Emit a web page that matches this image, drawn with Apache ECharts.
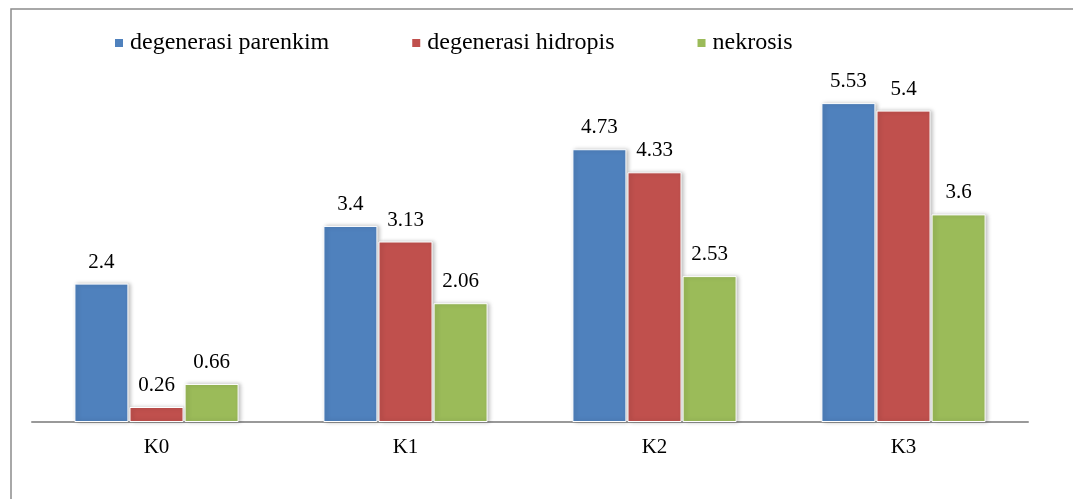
<!DOCTYPE html>
<html><head><meta charset="utf-8">
<script src="https://cdn.jsdelivr.net/npm/echarts@6/dist/echarts.min.js"></script>
<style>html,body{margin:0;padding:0;background:#fff}#c{width:1073px;height:499px}</style>
</head><body><div id="c"></div>
<script>
const categories = ['K0','K1','K2','K3'];
const seriesNames = ['degenerasi parenkim','degenerasi hidropis','nekrosis'];
const parenkim = [2.4, 3.4, 4.73, 5.53];
const hidropis = [0.26, 3.13, 4.33, 5.4];
const nekrosis = [0.66, 2.06, 2.53, 3.6];
const colors = ['#4F81BD','#C0504D','#9BBB59'];
const font = '"Liberation Serif","DejaVu Serif",serif';
const chart = echarts.init(document.getElementById('c'), null, {renderer:'canvas'});
const mk = (name, data, i) => ({
  name, type:'bar', data, barWidth:54, barGap:'2%',
  itemStyle:{color:colors[i], borderColor:'#fff', borderWidth:1, shadowColor:'rgba(0,0,0,0.25)', shadowBlur:4, shadowOffsetX:2, shadowOffsetY:0},
  label:{show:true, position:'top', distance:11, color:'#000', fontFamily:font, fontSize:21},
  emphasis:{disabled:true}, animation:false
});
chart.setOption({
  animation:false,
  graphic:[{type:'rect', shape:{x:11, y:9, width:1200, height:700}, style:{fill:'none', stroke:'#8c8c8c', lineWidth:1.5}, silent:true}],
  legend:{top:26, left:108, itemWidth:10, itemHeight:10, itemGap:81, icon:'rect',
    textStyle:{fontFamily:font, fontSize:24, color:'#000', padding:[0,0,0,1]}, data:seriesNames},
  grid:{left:32, right:45, top:76, bottom:77},
  xAxis:{type:'category', data:categories,
    axisLine:{lineStyle:{color:'#999', width:2}}, axisTick:{show:false},
    axisLabel:{fontFamily:font, fontSize:21, color:'#000', margin:15}},
  yAxis:{type:'value', min:0, max:6, interval:1, show:false, splitLine:{show:false}},
  series:[mk(seriesNames[0], parenkim, 0), mk(seriesNames[1], hidropis, 1), mk(seriesNames[2], nekrosis, 2)]
});
</script></body></html>
